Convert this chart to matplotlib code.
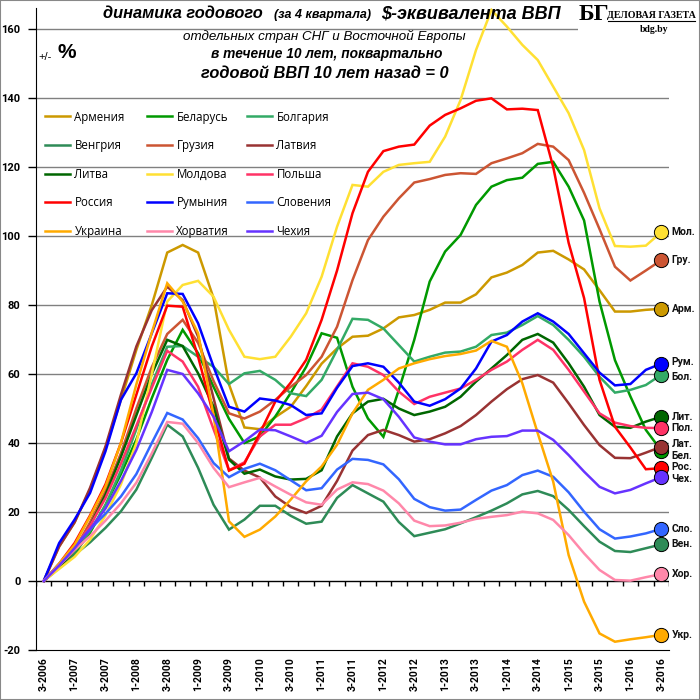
import numpy as np
import matplotlib
matplotlib.use("Agg")
import matplotlib.pyplot as plt
from matplotlib.lines import Line2D
from matplotlib.patches import Rectangle
from matplotlib.legend import Legend

plt.rcParams['font.family'] = ['Roboto', 'DejaVu Sans']

# ---------------- data ----------------
quarters = []
for k in range(41):
    q = (2 + k) % 4 + 1
    y = 2006 + (2 + k) // 4
    quarters.append(f"{q}-{y}")

names = ["Армения", "Беларусь", "Болгария", "Венгрия", "Грузия", "Латвия",
         "Литва", "Молдова", "Польша", "Россия", "Румыния", "Словения",
         "Украина", "Хорватия", "Чехия"]
short = ["Арм.", "Бел.", "Бол.", "Вен.", "Гру.", "Лат.", "Лит.", "Мол.",
         "Пол.", "Рос.", "Рум.", "Сло.", "Укр.", "Хор.", "Чех."]
colors = ["#CC9900", "#009900", "#33AA66", "#2E8B57", "#CC5533", "#993333",
          "#006600", "#FFE033", "#FF3366", "#FF0000", "#0000FF", "#3366FF",
          "#FFAA00", "#FF88AA", "#6633FF"]

armenia = [0, 10, 17, 26.5, 38.5, 52.5, 67, 80, 95.2, 97.4, 95.2, 82, 57, 44.5, 44, 47.5, 50.5, 56.5, 63, 67.4,
           70.8, 71.1, 73.2, 76.4, 77.1, 78.6, 80.7, 80.7, 83.1, 88, 89.4, 91.6, 95.2, 95.7, 93.2, 90.3, 84.3, 78.1,
           78.1, 78.6, 78.9]
belarus = [0, 4, 8, 14, 22, 31, 41, 53, 64.1, 72.8, 66, 56.3, 47, 40, 41.9, 47.7, 54.5, 62.1, 71.8, 70.5,
           56.3, 47.1, 41.8, 55.4, 69.9, 86.8, 95.5, 100.3, 109, 114.3, 116.2, 116.9, 120.9, 121.5, 114.3, 104.5,
           81, 64, 53.5, 43.8, 37.8]
bulgaria = [0, 4, 8.5, 14.5, 22, 32, 44, 57, 67.9, 68.1, 65, 62.1, 57.1, 60.2, 60.9, 58.3, 54.4, 53.6, 58.3, 67,
            76, 75.7, 73.2, 68.4, 63.6, 65, 66.2, 66.5, 67.9, 71.3, 72, 74.2, 76.8, 74.2, 69.9, 65, 59.2, 54.6,
            55.4, 56.8, 59.8]
hungary = [0, 3.8, 7.6, 11.2, 15.4, 20.2, 26.5, 35.7, 45.3, 41.9, 32.8, 22.1, 14.9, 17.8, 21.8, 21.8, 18.9, 16.6,
           17.2, 24.1, 27.8, 25.4, 23, 17.1, 13, 14, 15, 16.7, 18.5, 20.4, 22.5, 25.1, 26.1, 24.6, 20.6, 15.9, 11.4,
           8.7, 8.4, 9.5, 10.6]
georgia = [0, 4, 9, 17, 26, 37, 50, 62, 71.6, 75.7, 69, 58, 48.6, 47.1, 49.1, 52.5, 56.3, 59.7, 65, 73.7,
           87.2, 98.8, 105.6, 110.9, 115.5, 116.5, 117.7, 118.2, 118, 121.1, 122.5, 124, 126.7, 125.9, 122, 112.5,
           102, 91.1, 87.1, 90, 93]
latvia = [0, 10, 17, 27, 39, 54, 68, 78.5, 85.3, 81.4, 70.8, 53, 35.5, 32, 30, 24.5, 21.4, 19.7, 21.8, 29,
          37.8, 42.3, 43.8, 42.3, 40.4, 41.1, 42.8, 44.9, 48.1, 52, 55.6, 58.5, 59.7, 57.5, 51.5, 45.2, 39.4, 35.7,
          35.6, 37.2, 38.9]
lithuania = [0, 4, 9, 16, 25, 36, 48, 60, 69.9, 68.1, 60.2, 50.5, 35.2, 31.1, 32.3, 30.3, 29.4, 29.6, 32.1, 41.9,
             48.6, 52, 52.8, 50, 48.1, 49.1, 50.5, 53.4, 57.8, 61.6, 65.5, 69.9, 71.6, 69.1, 63.1, 56.3, 48.1, 44.7,
             44.4, 46.2, 47.6]
moldova = [0, 3.5, 7, 12, 19, 28, 40, 60, 81, 85.8, 87, 82.4, 72.8, 65, 64.3, 65, 70.8, 77.6, 88.2, 102.7,
           114.8, 114.3, 118.6, 120.6, 121.1, 121.5, 128.8, 139.4, 153.9, 165.5, 160.7, 155.4, 151, 143.3, 135.6,
           124.9, 108, 97.1, 96.9, 97.2, 101.1]
poland = [0, 4.5, 9.5, 16, 24, 34, 45, 56, 66.7, 63.6, 56.3, 44, 32.1, 34.4, 41.9, 45.3, 45.3, 47.2, 49.7, 56.4,
          63.1, 62.1, 59.7, 54.9, 51.3, 53.4, 54.6, 55.8, 58.3, 61.2, 63.6, 67, 69.9, 67, 61.2, 54.9, 48.6, 45.9,
          44.9, 44.4, 44.3]
russia = [0, 5, 11, 19, 28, 40, 54, 68, 79.8, 79.5, 65, 48, 32, 34, 42.9, 52, 57.5, 64.1, 75.7, 90,
          106.6, 118.6, 124.6, 125.9, 126.5, 132, 135.1, 137, 139.2, 139.9, 136.7, 136.9, 136.5, 120, 98, 82,
          58.3, 44.7, 38.7, 32.4, 32.7]
romania = [0, 11, 17.8, 25.5, 37.6, 52.5, 60.2, 71.8, 83.4, 83.2, 74.7, 62.1, 50.5, 49.1, 52.9, 52.3, 51, 48.1,
           48.6, 56, 62.3, 63.1, 62.1, 57.5, 52, 50.8, 52.7, 55.8, 61.6, 69.4, 71.3, 75.2, 77.6, 75.2, 71.6, 66,
           60.4, 56.7, 57.1, 61.2, 63]
slovenia = [0, 5, 10, 15, 19.5, 24.5, 31, 40, 48.7, 46.8, 41.4, 34.2, 30.1, 32.5, 34, 32.1, 29.2, 26.3, 26.9,
            32.3, 35.4, 35.1, 33.8, 29.5, 23.8, 21.4, 20.4, 20.7, 23.5, 26.2, 27.8, 30.7, 32, 30.2, 25.7, 20.1,
            15, 12.3, 12.9, 13.8, 15.1]
ukraine = [0, 5, 10.5, 18.7, 27.4, 40, 57, 72, 86.3, 81, 71.8, 48, 17.3, 12.8, 14.9, 18.7, 23.6, 28.9, 33.2,
           39.5, 48.6, 55.4, 58.3, 61.6, 63.1, 64.3, 65.2, 65.8, 66.8, 69.6, 67.9, 57.3, 42.8, 28.8, 7.5, -6,
           -15.2, -17.6, -16.9, -16.3, -15.6]
croatia = [0, 4.5, 9, 13, 17.5, 22.5, 28.5, 37, 46.1, 45.6, 40, 32.8, 27.2, 28.6, 29.9, 27.4, 25, 22.8, 22.1,
           26.5, 28.6, 28.1, 26.2, 22.5, 17.5, 15.9, 16.1, 16.9, 18, 18.6, 19.1, 20.1, 19.6, 17.7, 13.3, 8, 3.2,
           0.3, 0.1, 1.1, 2]
czech = [0, 4.5, 9.5, 15, 21, 29, 38, 49, 61.2, 60, 54.4, 47.6, 37.6, 40.5, 43.9, 43.7, 41.9, 40, 42.1, 49,
         54.2, 54.6, 52.7, 47.6, 41.6, 40.4, 39.6, 39.6, 41.1, 41.8, 42, 43.6, 43.6, 40.9, 36.5, 31.7, 27.3,
         25.4, 26.4, 28.3, 30.1]

series = [armenia, belarus, bulgaria, hungary, georgia, latvia, lithuania, moldova,
          poland, russia, romania, slovenia, ukraine, croatia, czech]

# small vertical nudges (points) for end labels that would overlap
label_dy = {"Лат.": 2, "Бел.": -4, "Рос.": 1, "Чех.": -1, "Рум.": 1, "Бол.": -1.5}

# ---------------- figure ----------------
W, H = 700, 700
fig = plt.figure(figsize=(7, 7), dpi=100)
fig.patch.set_facecolor("white")

ymin, ymax = -20, 166
ax = fig.add_axes([36 / W, 1 - 650 / H, (669 - 36) / W, (650 - 8.3) / H])
x = np.arange(len(quarters))
ax.set_xlim(-0.5, len(quarters) - 0.5)
ax.set_ylim(ymin, ymax)

for yv in range(20, 161, 20):
    ax.axhline(yv, color="#808080", lw=1.0, zorder=1)
ax.axhline(0, color="black", lw=1.0, zorder=2)
ax.vlines(np.arange(-0.5, len(quarters)), -1.5, 0, color="black", lw=1.0, zorder=2)

lines = []
for vals, col, nm in zip(series, colors, names):
    ln, = ax.plot(x, vals, color=col, lw=1.8, solid_joinstyle="miter", zorder=3, label=nm)
    lines.append(ln)

for vals, col, sh in zip(series, colors, short):
    ax.scatter([x[-1]], [vals[-1]], s=105, color=col, edgecolor="black", linewidth=0.7,
               zorder=5, clip_on=False)
    ax.annotate(sh, (x[-1], vals[-1]), xytext=(7.5, label_dy.get(sh, 0)), textcoords="offset points",
                ha="left", va="center", fontsize=7.5, fontweight="bold", color="#111111",
                annotation_clip=False, zorder=6)

ax.spines["top"].set_visible(False)
ax.spines["right"].set_visible(False)
ax.spines["left"].set_color("black")
ax.spines["bottom"].set_color("black")
ax.set_yticks(range(-20, 161, 20))
ax.set_yticklabels([str(v) for v in range(-20, 161, 20)], fontsize=8, fontweight="bold")
ax.tick_params(axis="y", direction="out", length=6, width=1, pad=5)
ax.set_xticks(x[::2])
ax.set_xticklabels(quarters[::2], rotation=90, fontsize=7.5, fontweight="bold")
ax.tick_params(axis="x", length=0, pad=5)

# legend: three columns, row-major order
order_cols = [[0, 3, 6, 9, 12], [1, 4, 7, 10, 13], [2, 5, 8, 11, 14]]
col_left = [45, 147, 247]
for cidx, idxs in enumerate(order_cols):
    leg = Legend(ax, [lines[i] for i in idxs], [names[i] for i in idxs],
                 loc="upper left", bbox_to_anchor=(col_left[cidx] / W, 1 - 110.5 / H),
                 bbox_transform=fig.transFigure, frameon=False,
                 prop={"family": ["Open Sans", "DejaVu Sans"], "size": 8.3},
                 handlelength=2.2, handletextpad=0.35, labelspacing=1.35, borderpad=0,
                 borderaxespad=0)
    ax.add_artist(leg)

# titles
TF = ["Liberation Sans", "DejaVu Sans"]
def ft(xp, yp, s, **kw):
    fig.text(xp / W, 1 - yp / H, s, **kw)

ft(263, 14, "динамика годового", ha="right", va="center", fontsize=11.8, fontweight="bold",
   style="italic", family=TF)
ft(323, 15, "(за 4 квартала)", ha="center", va="center", fontsize=9, fontweight="bold",
   style="italic", family=TF)
ft(381, 14, "$-эквивалента ВВП", ha="left", va="center", fontsize=13, fontweight="bold",
   style="italic", family=TF)
ft(324, 36, "отдельных стран СНГ и Восточной Европы", ha="center", va="center", fontsize=9.6,
   style="italic", family=TF)
ft(327, 54, "в течение 10 лет, поквартально", ha="center", va="center", fontsize=9.9, fontweight="bold",
   style="italic", family=TF)
ft(325, 74, "годовой ВВП 10 лет назад = 0", ha="center", va="center", fontsize=11.8, fontweight="bold",
   style="italic", family=TF)
ft(38, 57, "+/-", ha="left", va="center", fontsize=8, family=TF)
ft(58, 53, "%", ha="left", va="center", fontsize=15, fontweight="bold", family=TF)

# logo block
fig.patches.append(Rectangle((578 / W, 1 - 40 / H), 122 / W, 40 / H, transform=fig.transFigure,
                             facecolor="white", edgecolor="none", zorder=10))
ft(594, 15, "БГ", ha="center", va="center", fontsize=17, fontweight="bold",
   family=["Liberation Serif", "DejaVu Serif"], zorder=11)
ft(651, 15, "ДЕЛОВАЯ ГАЗЕТА", ha="center", va="center", fontsize=7.2, fontweight="bold",
   family=["Liberation Serif", "DejaVu Serif"], zorder=11)
fig.lines.append(Line2D([608 / W, 695 / W], [1 - 21 / H, 1 - 21 / H], transform=fig.transFigure,
                        color="black", lw=0.8, zorder=11))
ft(654, 29, "bdg.by", ha="center", va="center", fontsize=7, fontweight="bold",
   family=["Liberation Serif", "DejaVu Serif"], zorder=11)

# outer frame
fig.patches.append(Rectangle((0, 0), 1, 1, transform=fig.transFigure, facecolor="none",
                             edgecolor="#888888", lw=1.5, zorder=12))

fig.savefig("out.png", dpi=100, facecolor="white")
